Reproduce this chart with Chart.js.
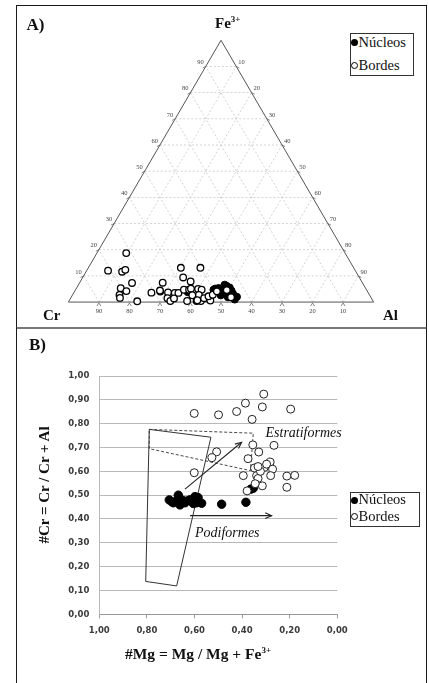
<!DOCTYPE html>
<html><head><meta charset="utf-8">
<script src="https://cdn.jsdelivr.net/npm/chart.js@4.4.1/dist/chart.umd.min.js"></script>
<style>
html,body{margin:0;padding:0;background:#fff;width:429px;height:683px;overflow:hidden;position:relative;}
.abs{position:absolute;white-space:nowrap;}
.serif{font-family:"Liberation Serif","Times New Roman",serif;color:#111;}
.b{font-weight:bold;}
.i{font-style:italic;}
.leg{position:absolute;border:1px solid #333;background:#fff;}
.dot{display:inline-block;width:7px;height:7px;border-radius:50%;box-sizing:border-box;vertical-align:middle;}
</style></head><body>

<div class="abs" style="left:16px;top:5px;width:409px;height:321px;border:1.5px solid #1a1a1a;border-bottom:2px solid #777;"></div>
<div class="abs" style="left:16px;top:328px;width:409px;height:380px;border-left:1.5px solid #1a1a1a;border-right:1.5px solid #1a1a1a;"></div>

<div class="abs" style="left:17px;top:6px;width:409px;height:321px;"><canvas id="cA" width="409" height="321"></canvas></div>
<div class="abs" style="left:17px;top:330px;width:409px;height:353px;"><canvas id="cB" width="409" height="353"></canvas></div>

<div id="texts"></div>

<script>
// ---------- Panel A: ternary (Cr, Fe3+, Al) in % ----------
const ternTicks = [10,20,30,40,50,60,70,80,90];
const bordesCrA = [71.7,81.0,76.6,75.2,75.5,80.2,78.9,81.9,82.3,77.3,71.0,65.4,67.9,65.5,66.8,66.4,63.4,62.2,56.6,57.7,59.8,56.0,58.1,60.9,57.8,56.4,50.2,55.0,54.0,55.9,54.8,53.2,53.0,51.3,49.3,45.8,45.8,64.7,57.3,58.1,57.4,67.8];
const bordesFeA = [18.7,12.0,11.6,12.3,7.3,5.3,4.2,2.7,1.6,0.3,3.6,7.4,4.0,3.7,1.5,0.4,3.5,3.5,13.1,9.4,4.7,7.9,4.7,0.4,0.4,0.4,13.1,5.0,4.7,2.7,1.5,0.6,2.2,2.8,4.1,4.6,1.85,1.4,5.1,2.6,0.7,4.4];
const nucleosCrA = [59.0,50.1,48.2,47.2,45.1,44.4,44.4,44.5,45.0,47.2,46.8,48.3,49.4,46.3,43.8,46.0,45.5,48.8];
const nucleosFeA = [3.8,4.7,5.3,4.9,6.2,5.5,4.3,3.1,1.0,3.1,1.85,4.0,5.1,5.4,2.0,6.0,6.6,2.6];

// ---------- Panel B: #Mg vs #Cr ----------
const mgTicks = [1.0,0.8,0.6,0.4,0.2,0.0];
const bordesMg = [0.601,0.499,0.423,0.386,0.309,0.315,0.358,0.196,0.355,0.266,0.330,0.375,0.507,0.527,0.601,0.395,0.348,0.307,0.282,0.297,0.272,0.280,0.339,0.333,0.315,0.345,0.212,0.179,0.212,0.379,0.323,0.333];
const bordesCr = [0.843,0.837,0.851,0.886,0.924,0.870,0.818,0.861,0.711,0.709,0.681,0.653,0.682,0.657,0.594,0.582,0.614,0.616,0.639,0.630,0.609,0.582,0.582,0.570,0.539,0.548,0.580,0.583,0.533,0.518,0.600,0.620];
const nucleosMg = [0.706,0.689,0.668,0.665,0.661,0.647,0.655,0.676,0.640,0.625,0.619,0.598,0.591,0.585,0.605,0.570,0.486,0.384,0.353,0.364,0.695];
const nucleosCr = [0.480,0.468,0.500,0.490,0.459,0.477,0.470,0.475,0.468,0.478,0.480,0.494,0.468,0.490,0.465,0.466,0.462,0.470,0.529,0.525,0.472];
const podiformFieldMg = [0.790,0.531,0.675,0.805,0.790];
const podiformFieldCr = [0.776,0.743,0.119,0.138,0.776];
const stratFieldMg = [0.790,0.353,0.365,0.790,0.790];
const stratFieldCr = [0.776,0.760,0.603,0.695,0.776];
const stratArrowMg = [0.640,0.402];
const stratArrowCr = [0.525,0.722];
const podiArrowMg = [0.619,0.276];
const podiArrowCr = [0.414,0.414];

// ---------- helpers ----------
const S3 = Math.sqrt(3)/2;
function tern(cr, fe){ const al = 100 - cr - fe; return {x: al + fe/2, y: fe*S3}; }
function zipPts(xs, ys){ return xs.map((v,i)=>({x:v,y:ys[i]})); }

// Panel A chart
const bordesPtsA = bordesCrA.map((c,i)=>tern(c,bordesFeA[i]));
const nucleosPtsA = nucleosCrA.map((c,i)=>tern(c,nucleosFeA[i]));
const gridSets = [];
function gridLine(p1,p2){
  gridSets.push({data:[p1,p2],showLine:true,pointRadius:0,borderColor:'#c8c8c8',borderWidth:0.8,borderDash:[2,2],fill:false});
}
ternTicks.forEach(f=>{
  gridLine(tern(100-f,f), tern(0,f));           // constant Fe
  gridLine(tern(f,0), tern(f,100-f));           // constant Cr
  gridLine(tern(100-f,0), tern(0,100-f));       // constant Al
});
const outline = {data:[tern(100,0),tern(0,0),tern(0,100),tern(100,0)],showLine:true,pointRadius:0,borderColor:'#555',borderWidth:1,fill:false};

const ternaryTicks = {
  id:'ternaryTicks',
  afterDatasetsDraw(chart){
    const c = chart.ctx, xs = chart.scales.x, ys = chart.scales.y;
    const P = p => ({x: xs.getPixelForValue(p.x), y: ys.getPixelForValue(p.y)});
    c.save();
    c.font = '6.5px "Liberation Serif", serif';
    c.fillStyle = '#444'; c.strokeStyle = '#555'; c.lineWidth = 0.7;
    ternTicks.forEach(f=>{
      // left edge: Fe %
      let p = P(tern(100-f,f));
      c.beginPath(); c.moveTo(p.x,p.y); c.lineTo(p.x-3,p.y+1.5); c.stroke();
      c.textAlign='right'; c.textBaseline='middle'; c.fillText(String(f), p.x-2, p.y-4);
      // right edge: Al %
      p = P(tern(0,100-f));
      c.beginPath(); c.moveTo(p.x,p.y); c.lineTo(p.x+3,p.y+1.5); c.stroke();
      c.textAlign='left'; c.fillText(String(f), p.x+2, p.y-4);
      // base: Cr %
      p = P(tern(f,0));
      c.beginPath(); c.moveTo(p.x-2,p.y+4); c.lineTo(p.x,p.y+1); c.lineTo(p.x+2,p.y+4); c.stroke();
      c.textAlign='center'; c.fillText(String(f), p.x, p.y+9);
    });
    c.restore();
  }
};

const xMinA = -47.3/3.134, xMaxA = xMinA + 409/3.134;
const yMaxA = 300.7/3.126, yMinA = yMaxA - 321/3.126;

new Chart(document.getElementById('cA'), {
  type:'scatter',
  data:{datasets:[
    {label:'Bordes', data:bordesPtsA, pointRadius:3.3, pointBackgroundColor:'#fff', pointBorderColor:'#000', pointBorderWidth:1.3},
    {label:'Núcleos', data:nucleosPtsA, pointRadius:3.6, pointBackgroundColor:'#000', pointBorderColor:'#000', pointBorderWidth:1},
    outline, ...gridSets
  ]},
  options:{
    animation:false, responsive:false, events:[],
    layout:{padding:0},
    plugins:{legend:{display:false}, tooltip:{enabled:false}},
    scales:{
      x:{type:'linear', display:false, min:xMinA, max:xMaxA},
      y:{type:'linear', display:false, min:yMinA, max:yMaxA}
    },
    datasets:{scatter:{clip:false}}
  },
  plugins:[ternaryTicks]
});

// Panel B chart
const arrowHeads = {
  id:'arrowHeads',
  afterDatasetsDraw(chart){
    const c = chart.ctx;
    chart.data.datasets.forEach((ds,i)=>{
      if(!ds.arrow) return;
      const pts = chart.getDatasetMeta(i).data;
      const a = pts[pts.length-2], b = pts[pts.length-1];
      const ang = Math.atan2(b.y-a.y, b.x-a.x), L = 7, w = 0.42;
      c.save(); c.strokeStyle = '#222'; c.lineWidth = 1.1;
      c.beginPath();
      c.moveTo(b.x - L*Math.cos(ang-w), b.y - L*Math.sin(ang-w));
      c.lineTo(b.x, b.y);
      c.lineTo(b.x - L*Math.cos(ang+w), b.y - L*Math.sin(ang+w));
      c.stroke(); c.restore();
    });
  }
};
const fmt = v => Number(v).toFixed(2).replace('.',',');
const tickFont = {family:'"DejaVu Sans", sans-serif', size:8.5, weight:'bold'};

new Chart(document.getElementById('cB'), {
  type:'scatter',
  data:{datasets:[
    {label:'Bordes', data:zipPts(bordesMg,bordesCr), pointRadius:4, pointBackgroundColor:'#fff', pointBorderColor:'#222', pointBorderWidth:1},
    {label:'Núcleos', data:zipPts(nucleosMg,nucleosCr), pointRadius:4.2, pointBackgroundColor:'#000', pointBorderColor:'#000', pointBorderWidth:1},
    {data:zipPts(stratArrowMg,stratArrowCr), showLine:true, pointRadius:0, borderColor:'#222', borderWidth:1.1, arrow:true},
    {data:zipPts(podiArrowMg,podiArrowCr), showLine:true, pointRadius:0, borderColor:'#222', borderWidth:1.1, arrow:true},
    {data:zipPts(podiformFieldMg,podiformFieldCr), showLine:true, pointRadius:0, borderColor:'#333', borderWidth:1},
    {data:zipPts(stratFieldMg,stratFieldCr), showLine:true, pointRadius:0, borderColor:'#333', borderWidth:0.9, borderDash:[3,2]}
  ]},
  options:{
    animation:false, responsive:false, events:[],
    layout:{padding:{left:0, top:46, right:88.7, bottom:0}},
    plugins:{legend:{display:false}, tooltip:{enabled:false}},
    scales:{
      x:{type:'linear', reverse:true, min:0, max:1,
         afterBuildTicks(s){ s.ticks = mgTicks.map(v=>({value:v})); },
         afterFit(s){ s.height = 68.7; },
         ticks:{padding:7, font:tickFont, color:'#3a3a3a', callback:v=>fmt(v), maxRotation:0},
         grid:{drawOnChartArea:false, drawTicks:true, tickLength:4, color:'#999'},
         border:{display:true, color:'#999'}},
      y:{type:'linear', min:0, max:1,
         afterFit(s){ s.width = 82.3; },
         ticks:{stepSize:0.1, padding:10, font:tickFont, color:'#3a3a3a', callback:v=>fmt(v)},
         grid:{color:'#b8b8b8', drawTicks:false},
         border:{display:true, color:'#b8b8b8'}}
    },
    datasets:{scatter:{clip:false}}
  },
  plugins:[arrowHeads]
});

// ---------- text labels ----------
const T = document.getElementById('texts');
function put(html, x, base, size, cls, align){
  const d = document.createElement('div');
  d.className = 'abs serif ' + (cls||'');
  d.style.fontSize = size+'px'; d.style.lineHeight = size+'px';
  d.style.top = (base - 0.8375*size)+'px';
  if(align==='center'){ d.style.left = x+'px'; d.style.transform='translateX(-50%)'; }
  else d.style.left = x+'px';
  d.innerHTML = html; T.appendChild(d); return d;
}
const sup = '<span style="font-size:9px;position:relative;top:-6px;">3+</span>';
put('A)', 26.5, 30, 17, 'b');
put('Fe'+sup, 215, 29, 15, 'b');
put('Cr', 43, 320.5, 15, 'b');
put('Al', 383, 320.5, 15, 'b');
put('B)', 29, 350.5, 17, 'b');
put('<i>Estratiformes</i>', 265.5, 437.5, 14, '');
put('<i>Podiformes</i>', 195, 537.5, 14, '');
put('#Mg = Mg / Mg + Fe'+sup, 198, 659.3, 15.5, 'b', 'center');
const yt = document.createElement('div');
yt.className = 'abs serif b';
yt.style.cssText += 'font-size:15px;line-height:15px;left:43.5px;top:485px;transform:translate(-50%,-50%) rotate(-90deg);';
yt.textContent = '#Cr = Cr / Cr + Al';
T.appendChild(yt);

// legends
function legend(x,y,w,h,rows){
  const box = document.createElement('div');
  box.className='leg'; box.style.left=x+'px'; box.style.top=y+'px'; box.style.width=w+'px'; box.style.height=h+'px';
  T.appendChild(box);
  rows.forEach(r=>{
    const dot = document.createElement('div');
    dot.className='abs';
    dot.style.cssText += `left:${r.dx}px;top:${r.cy-3.5}px;width:7px;height:7px;border-radius:50%;box-sizing:border-box;`+
      (r.filled?'background:#000;':'background:#fff;border:1.4px solid #000;');
    T.appendChild(dot);
    put(r.text, r.dx+7.5, r.base, r.size, '', '');
  });
}
legend(350,33,62,41,[
  {text:'Núcleos', filled:true, dx:351, cy:42.7, base:47.5, size:14.5},
  {text:'Bordes', filled:false, dx:351, cy:65, base:70, size:14.5}
]);
legend(350,491.5,68,33,[
  {text:'Núcleos', filled:true, dx:351, cy:500, base:504.5, size:14.5},
  {text:'Bordes', filled:false, dx:351, cy:516, base:521, size:14.5}
]);
</script>
</body></html>
